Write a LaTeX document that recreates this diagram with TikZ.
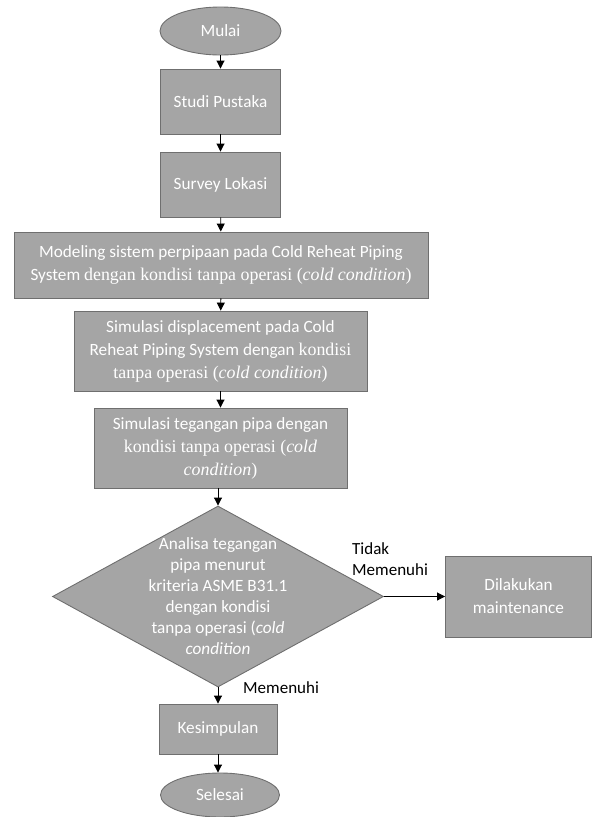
\documentclass[tikz,border=0pt]{standalone}
\usepackage{fontspec}
\setmainfont{Carlito}
\newfontfamily\srf[Scale=1.04]{Liberation Serif}
\usetikzlibrary{shapes.geometric,arrows.meta}
\definecolor{boxfill}{HTML}{A5A5A5}
\definecolor{boxline}{HTML}{6F6F6F}
\definecolor{ink}{HTML}{000000}
\tikzset{
  proc/.style={
    draw=boxline,
    fill=boxfill,
    line width=0.9pt,
    text=white,
    align=center,
    inner sep=0pt,
    font=\fontsize{17.2}{23}\selectfont
  },
  term/.style={proc, ellipse},
  decision/.style={draw=boxline, fill=boxfill, line width=0.9pt, diamond, inner sep=0pt},
  dtext/.style={text=white, align=center, inner sep=0pt, font=\fontsize{17.2}{21}\selectfont},
  lbl/.style={text=ink, align=left, inner sep=0pt, anchor=west, font=\fontsize{17}{21}\selectfont},
  arr/.style={draw=ink, line width=0.9pt, -{Triangle[length=8pt,width=8pt]}}
}

\begin{document}
\begin{tikzpicture}[x=1pt,y=-1pt]
  \useasboundingbox (0,0) rectangle (592,817);

  \node[term, minimum width=121pt, minimum height=48pt] (mulai) at (220.5,31) {Mulai};
  \node[proc, minimum width=120pt, minimum height=65pt] (studi) at (220.5,101.5) {Studi Pustaka};
  \node[proc, minimum width=120pt, minimum height=65pt] (survey) at (220.5,184.5) {Survey Lokasi};
  \node[proc, minimum width=414pt, minimum height=66pt] (modeling) at (221,265)
    {Modeling sistem perpipaan pada Cold Reheat Piping\\
     System {\srf dengan kondisi tanpa operasi (\textit{cold condition})}};
  \node[proc, minimum width=293pt, minimum height=80pt] (displ) at (220.5,351)
    {Simulasi displacement pada Cold\\
     Reheat Piping System dengan {\srf kondisi}\\
     {\srf tanpa operasi (\textit{cold condition})}};
  \node[proc, minimum width=253pt, minimum height=80pt] (tegangan) at (220.5,448)
    {Simulasi tegangan pipa dengan\\
     {\srf kondisi tanpa operasi (\textit{cold}}\\
     {\srf \textit{condition})}};

  \node[decision, minimum width=331pt, minimum height=181pt] (analisa) at (218,596.5) {};
  \node[dtext] (analisatxt) at (analisa) {Analisa tegangan\\
     pipa menurut\\
     kriteria ASME B31.1\\
     dengan kondisi\\
     tanpa operasi (\textit{cold}\\
     \textit{condition}};

  \node[proc, minimum width=146pt, minimum height=81pt] (dilakukan) at (518.5,596.5) {Dilakukan\\maintenance};
  \node[proc, minimum width=118pt, minimum height=50pt] (kesimpulan) at (218,729) {Kesimpulan};
  \node[term, minimum width=119pt, minimum height=44pt] (selesai) at (220,795) {Selesai};

  \node[lbl] (tidak) at (352,559.5) {Tidak\\Memenuhi};
  \node[lbl] (memenuhi) at (243,688) {Memenuhi};

  \foreach \a/\b in {mulai/studi,studi/survey,survey/modeling,modeling/displ,displ/tegangan}{
    \draw[arr] (\a) -- (\b);
  }
  \draw[arr] (tegangan.south -| analisa.north) -- (analisa.north);
  \draw[arr] (analisa.south) -- (kesimpulan.north);
  \draw[arr] (kesimpulan.south) -- (kesimpulan.south |- selesai.north);
  \draw[arr] (analisa.east) -- (dilakukan.west);
\end{tikzpicture}
\end{document}
